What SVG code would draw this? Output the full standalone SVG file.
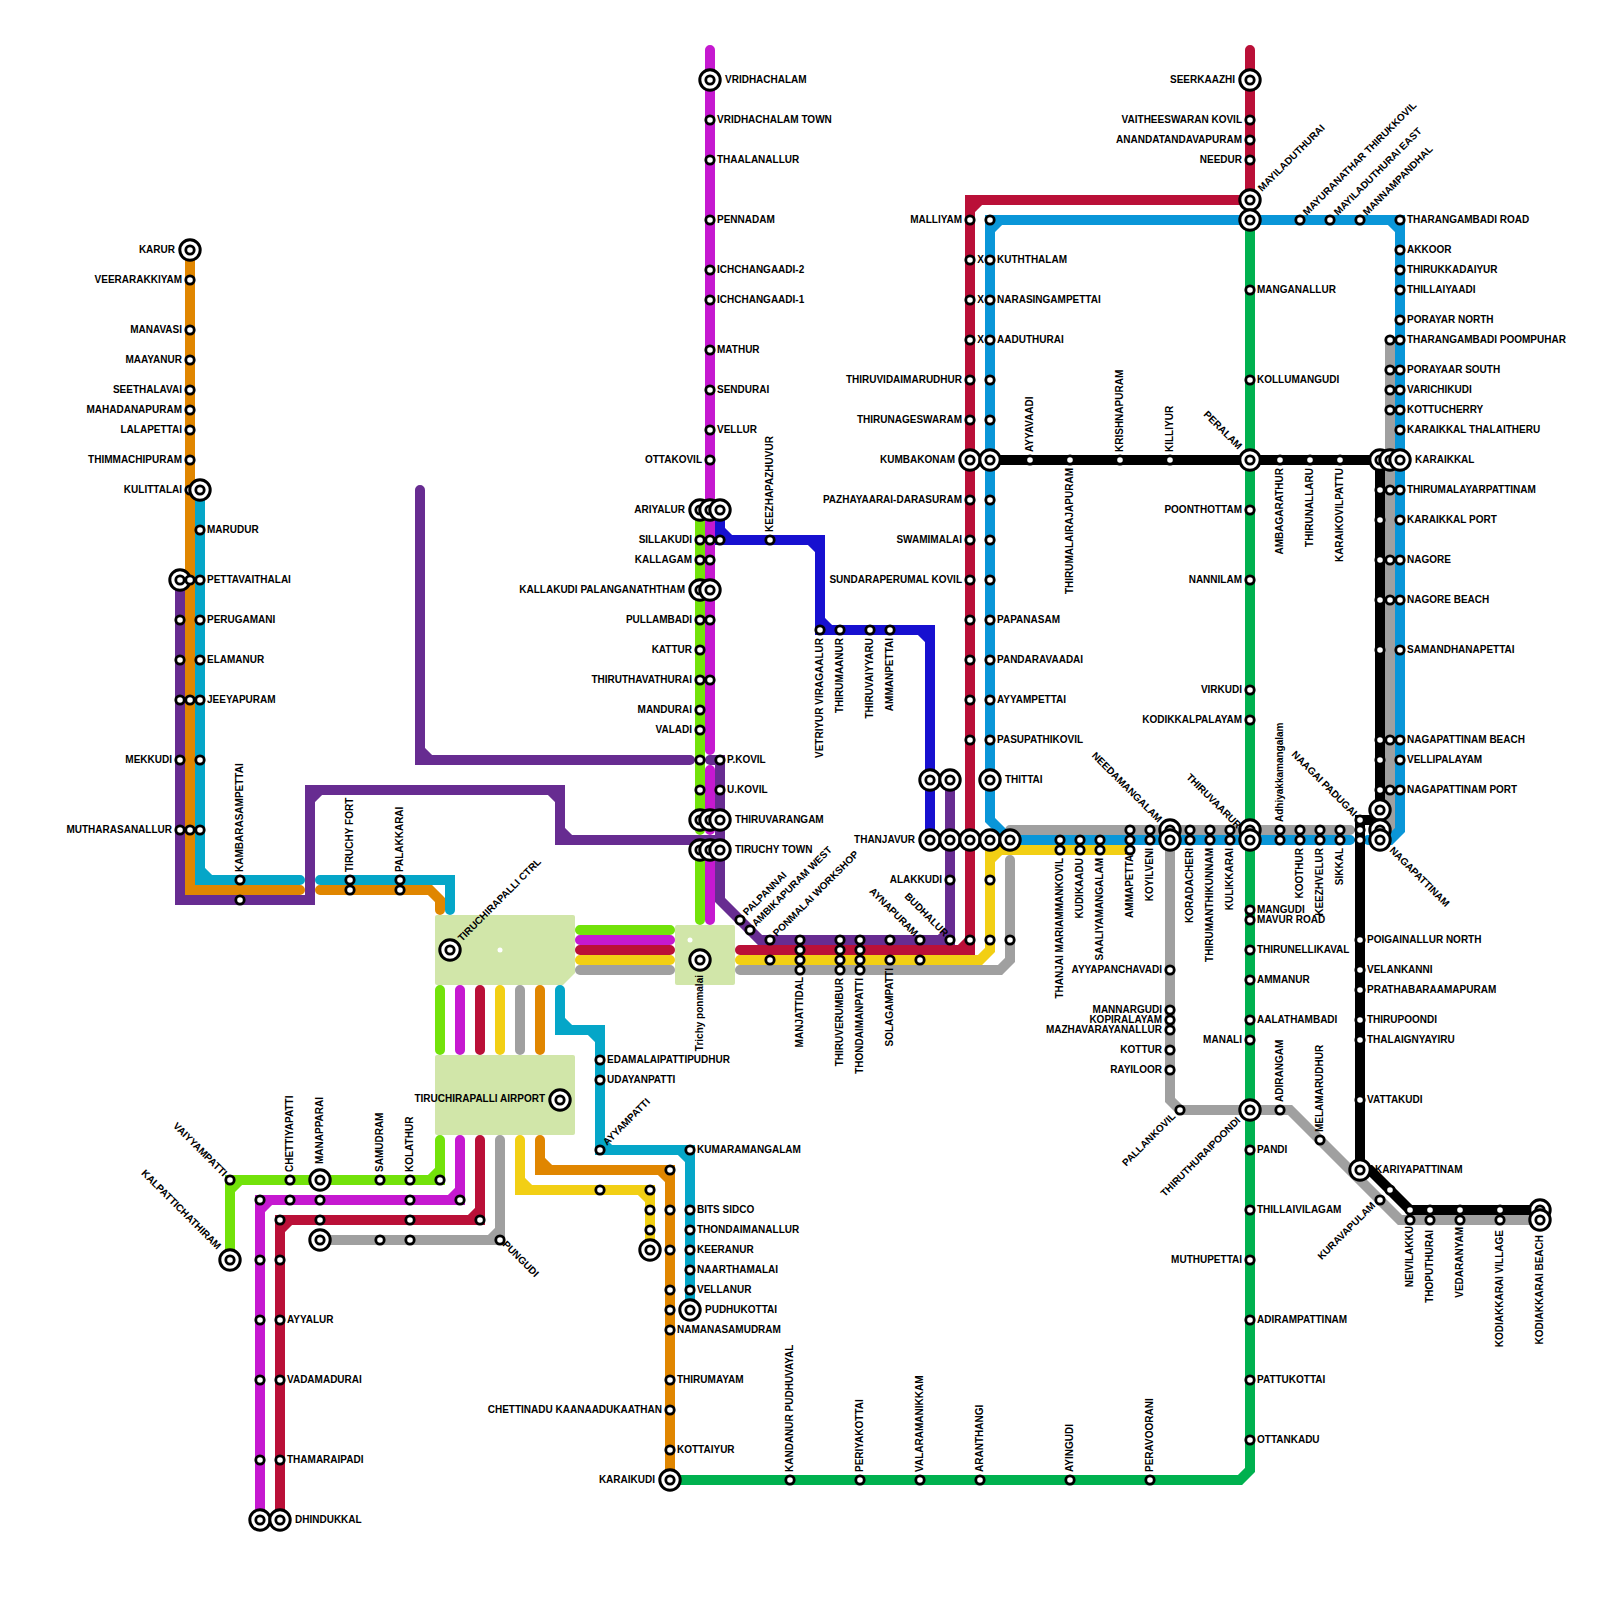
<svg xmlns="http://www.w3.org/2000/svg" width="1600" height="1600" viewBox="0 0 1600 1600">
<style>
.ln{fill:none;stroke-width:10;stroke-linecap:round;stroke-linejoin:miter}
.area{fill:#d1e6a9}
text{font:bold 10px "Liberation Sans",Arial,sans-serif;fill:#000}
.e{text-anchor:end}
.s{fill:#fff;stroke:#000;stroke-width:2.8}
.o{fill:#fff;stroke:#000;stroke-width:3}
</style>
<defs>
<g id="s"><circle class="s" r="4.2"/></g>
<g id="b"><circle class="o" r="10.2"/><circle class="s" r="4.2"/></g>
</defs>
<rect width="1600" height="1600" fill="#fff"/>
<g id="areas">
<path class="area" d="M437 915H573Q575 915 575 917V973L563 985H437Q435 985 435 983V917Q435 915 437 915Z"/>
<rect class="area" x="675" y="925" width="60" height="60" rx="2"/>
<rect class="area" x="435" y="1055" width="140" height="80" rx="2"/>
<circle cx="500" cy="950" r="2.5" fill="#fff"/>
<circle cx="690" cy="940" r="2.5" fill="#fff"/>
</g>
<g id="connectors">
<path class="ln" stroke="#672c91" d="M420 490V760H690M420 750L430 760"/>
<path class="ln" stroke="#672c91" d="M180 580V900H310V790H560V840H720M310 800L320 790M550 790L560 800M560 830L570 840"/>
<path class="ln" stroke="#672c91" d="M710 760H720V900L760 940H950V780M940 940L950 930"/>
<path class="ln" stroke="#e08600" d="M190 250V890H300M320 890H430L440 900V910M430 890L440 900"/>
<path class="ln" stroke="#05a6c8" d="M200 490V880H300M200 870L210 880M320 880H450V910"/>
<path class="ln" stroke="#72e20a" d="M700 510V830M700 850V920M580 930H670M440 990V1050M440 1140V1180H230V1260M440 1170L430 1180M230 1190L240 1180"/>
<path class="ln" stroke="#c519d0" d="M710 50V750M710 770V830M710 850V920M580 940H670M460 990V1050M460 1140V1200H260V1520M460 1190L450 1200M260 1210L270 1200"/>
<path class="ln" stroke="#ba1038" d="M580 950H670M480 990V1050M480 1140V1220H280V1520M480 1210L470 1220M280 1230L290 1220M740 950H970V200H1250M960 950L970 940M970 210L980 200M1250 50V200"/>
<path class="ln" stroke="#f2cf14" d="M580 960H670M500 990V1050M520 1140V1190H650V1250M520 1180L530 1190M640 1190L650 1200M740 960H980L990 950V850H1130M990 860L1000 850"/>
<path class="ln" stroke="#a0a0a0" d="M580 970H670M520 990V1050M500 1140V1240H320M500 1230L490 1240M740 970H1000L1010 960V860M1010 830H1350M1170 840V1100L1180 1110H1290L1400 1220H1540M1390 340V830"/>
<path class="ln" stroke="#e08600" d="M540 990V1050M540 1140V1170H670V1480M540 1160L550 1170M660 1170L670 1180"/>
<path class="ln" stroke="#05a6c8" d="M560 990V1030H600V1150H690V1310M560 1020L570 1030M590 1030L600 1040M600 1140L610 1150M680 1150L690 1160"/>
<path class="ln" stroke="#1710d0" d="M720 510V540H820V630H930V840M720 530L730 540M810 540L820 550M820 620L830 630M920 630L930 640"/>
<path class="ln" stroke="#00b14f" d="M670 1480H1240L1250 1470V220"/>
<path class="ln" stroke="#0a96d8" d="M1350 840H1010L990 820V220H1400V830L1390 840H1368M990 230L1000 220M1390 220L1400 230"/>
<path class="ln" stroke="#000" d="M990 460H1380V820H1360V1170H1370L1410 1210H1540"/>
</g>
<g id="nodes">
<g id="karur"><use href="#b" x="190" y="250"/><text class="e" x="175" y="252.5">KARUR</text></g>
<g id="veerarakkiyam"><use href="#s" x="190" y="280"/><text class="e" x="182" y="282.5">VEERARAKKIYAM</text></g>
<g id="manavasi"><use href="#s" x="190" y="330"/><text class="e" x="182" y="332.5">MANAVASI</text></g>
<g id="maayanur"><use href="#s" x="190" y="360"/><text class="e" x="182" y="362.5">MAAYANUR</text></g>
<g id="seethalavai"><use href="#s" x="190" y="390"/><text class="e" x="182" y="392.5">SEETHALAVAI</text></g>
<g id="mahadanapuram"><use href="#s" x="190" y="410"/><text class="e" x="182" y="412.5">MAHADANAPURAM</text></g>
<g id="lalapettai"><use href="#s" x="190" y="430"/><text class="e" x="182" y="432.5">LALAPETTAI</text></g>
<g id="thimmachipuram"><use href="#s" x="190" y="460"/><text class="e" x="182" y="462.5">THIMMACHIPURAM</text></g>
<g id="kulittalai"><use href="#s" x="190" y="490"/><use href="#b" x="200" y="490"/><text class="e" x="182" y="492.5">KULITTALAI</text></g>
<g id="marudur"><use href="#s" x="200" y="530"/><text x="207" y="532.5">MARUDUR</text></g>
<g id="pettavaithalai"><use href="#b" x="180" y="580"/><use href="#s" x="190" y="580"/><use href="#s" x="200" y="580"/><text x="207" y="582.5">PETTAVAITHALAI</text></g>
<g id="perugamani"><use href="#s" x="180" y="620"/><use href="#s" x="200" y="620"/><text x="207" y="622.5">PERUGAMANI</text></g>
<g id="elamanur"><use href="#s" x="180" y="660"/><use href="#s" x="200" y="660"/><text x="207" y="662.5">ELAMANUR</text></g>
<g id="jeeyapuram"><use href="#s" x="180" y="700"/><use href="#s" x="190" y="700"/><use href="#s" x="200" y="700"/><text x="207" y="702.5">JEEYAPURAM</text></g>
<g id="mekkudi"><use href="#s" x="180" y="760"/><use href="#s" x="200" y="760"/><text class="e" x="172" y="762.5">MEKKUDI</text></g>
<g id="mutharasanallur"><use href="#s" x="180" y="830"/><use href="#s" x="190" y="830"/><use href="#s" x="200" y="830"/><text class="e" x="172" y="832.5">MUTHARASANALLUR</text></g>
<g id="kambarasampettai"><use href="#s" x="240" y="880"/><use href="#s" x="240" y="900"/><text x="243" y="872" transform="rotate(-90 243 872)">KAMBARASAMPETTAI</text></g>
<g id="tiruchy-fort"><use href="#s" x="350" y="880"/><use href="#s" x="350" y="890"/><text x="353" y="872" transform="rotate(-90 353 872)">TIRUCHY FORT</text></g>
<g id="palakkarai"><use href="#s" x="400" y="880"/><use href="#s" x="400" y="890"/><text x="403" y="872" transform="rotate(-90 403 872)">PALAKKARAI</text></g>
<g id="tiruchirapalli-ctrl"><use href="#b" x="450" y="950"/><text x="462" y="942" transform="rotate(-45 462 942)">TIRUCHIRAPALLI CTRL</text></g>
<g id="trichy-ponmalai"><use href="#b" x="700" y="960"/><text class="e" x="703" y="975" transform="rotate(-90 703 975)">Trichy ponmalai</text></g>
<g id="airport"><use href="#b" x="560" y="1100"/><text class="e" x="545" y="1101.5">TIRUCHIRAPALLI AIRPORT</text></g>
<g id="edamalaipattipudhur"><use href="#s" x="600" y="1060"/><text x="607" y="1062.5">EDAMALAIPATTIPUDHUR</text></g>
<g id="udayanpatti"><use href="#s" x="600" y="1080"/><text x="607" y="1082.5">UDAYANPATTI</text></g>
<g id="ayyampatti"><use href="#s" x="600" y="1150"/><text x="607" y="1146" transform="rotate(-45 607 1146)">AYYAMPATTI</text></g>
<g id="kumaramangalam"><use href="#s" x="690" y="1150"/><text x="697" y="1152.5">KUMARAMANGALAM</text></g>
<g id="n-o1"><use href="#s" x="670" y="1170"/></g>
<g id="n-y1"><use href="#s" x="600" y="1190"/></g>
<g id="n-y2"><use href="#s" x="650" y="1190"/></g>
<g id="n-y3"><use href="#s" x="650" y="1210"/></g>
<g id="n-y4"><use href="#s" x="650" y="1230"/></g>
<g id="n-y5"><use href="#b" x="650" y="1250"/></g>
<g id="bits-sidco"><use href="#s" x="670" y="1210"/><use href="#s" x="690" y="1210"/><text x="697" y="1212.5">BITS SIDCO</text></g>
<g id="thondaimanallur"><use href="#s" x="690" y="1230"/><text x="697" y="1232.5">THONDAIMANALLUR</text></g>
<g id="keeranur"><use href="#s" x="670" y="1250"/><use href="#s" x="690" y="1250"/><text x="697" y="1252.5">KEERANUR</text></g>
<g id="naarthamalai"><use href="#s" x="690" y="1270"/><text x="697" y="1272.5">NAARTHAMALAI</text></g>
<g id="vellanur"><use href="#s" x="670" y="1290"/><use href="#s" x="690" y="1290"/><text x="697" y="1292.5">VELLANUR</text></g>
<g id="pudhukottai"><use href="#s" x="670" y="1310"/><use href="#b" x="690" y="1310"/><text x="705" y="1312.5">PUDHUKOTTAI</text></g>
<g id="namanasamudram"><use href="#s" x="670" y="1330"/><text x="677" y="1332.5">NAMANASAMUDRAM</text></g>
<g id="thirumayam"><use href="#s" x="670" y="1380"/><text x="677" y="1382.5">THIRUMAYAM</text></g>
<g id="chettinadu"><use href="#s" x="670" y="1410"/><text class="e" x="662" y="1412.5">CHETTINADU KAANAADUKAATHAN</text></g>
<g id="kottaiyur"><use href="#s" x="670" y="1450"/><text x="677" y="1452.5">KOTTAIYUR</text></g>
<g id="karaikudi"><use href="#b" x="670" y="1480"/><text class="e" x="655" y="1482.5">KARAIKUDI</text></g>
<g id="vaiyyampatti"><use href="#s" x="230" y="1180"/><text class="e" x="223" y="1177" transform="rotate(45 223 1177)">VAIYYAMPATTI</text></g>
<g id="kalpattichathiram"><use href="#b" x="230" y="1260"/><text class="e" x="217" y="1250" transform="rotate(45 217 1250)">KALPATTICHATHIRAM</text></g>
<g id="chettiyapatti"><use href="#s" x="290" y="1180"/><use href="#s" x="290" y="1200"/><text x="293" y="1172" transform="rotate(-90 293 1172)">CHETTIYAPATTI</text></g>
<g id="manapparai"><use href="#b" x="320" y="1180"/><use href="#s" x="320" y="1200"/><use href="#s" x="320" y="1220"/><use href="#b" x="320" y="1240"/><text x="323" y="1164" transform="rotate(-90 323 1164)">MANAPPARAI</text></g>
<g id="samudram"><use href="#s" x="380" y="1180"/><use href="#s" x="380" y="1240"/><text x="383" y="1172" transform="rotate(-90 383 1172)">SAMUDRAM</text></g>
<g id="kolathur"><use href="#s" x="410" y="1180"/><use href="#s" x="410" y="1200"/><use href="#s" x="410" y="1220"/><use href="#s" x="410" y="1240"/><text x="413" y="1172" transform="rotate(-90 413 1172)">KOLATHUR</text></g>
<g id="n-g1"><use href="#s" x="440" y="1180"/></g>
<g id="n-m1"><use href="#s" x="460" y="1200"/></g>
<g id="n-r1"><use href="#s" x="480" y="1220"/></g>
<g id="pungudi"><use href="#s" x="500" y="1240"/><text x="502" y="1245" transform="rotate(45 502 1245)">PUNGUDI</text></g>
<g id="n-m2"><use href="#s" x="260" y="1200"/></g>
<g id="n-r2"><use href="#s" x="280" y="1220"/></g>
<g id="n-m3"><use href="#s" x="260" y="1260"/></g>
<g id="n-r3"><use href="#s" x="280" y="1260"/></g>
<g id="ayyalur"><use href="#s" x="260" y="1320"/><use href="#s" x="280" y="1320"/><text x="287" y="1322.5">AYYALUR</text></g>
<g id="vadamadurai"><use href="#s" x="260" y="1380"/><use href="#s" x="280" y="1380"/><text x="287" y="1382.5">VADAMADURAI</text></g>
<g id="thamaraipadi"><use href="#s" x="260" y="1460"/><use href="#s" x="280" y="1460"/><text x="287" y="1462.5">THAMARAIPADI</text></g>
<g id="dhindukkal"><use href="#b" x="260" y="1520"/><use href="#b" x="280" y="1520"/><text x="295" y="1522.5">DHINDUKKAL</text></g>
<g id="vridhachalam"><use href="#b" x="710" y="80"/><text x="725" y="82.5">VRIDHACHALAM</text></g>
<g id="vridhachalam-town"><use href="#s" x="710" y="120"/><text x="717" y="122.5">VRIDHACHALAM TOWN</text></g>
<g id="thaalanallur"><use href="#s" x="710" y="160"/><text x="717" y="162.5">THAALANALLUR</text></g>
<g id="pennadam"><use href="#s" x="710" y="220"/><text x="717" y="222.5">PENNADAM</text></g>
<g id="ichchangaadi2"><use href="#s" x="710" y="270"/><text x="717" y="272.5">ICHCHANGAADI-2</text></g>
<g id="ichchangaadi1"><use href="#s" x="710" y="300"/><text x="717" y="302.5">ICHCHANGAADI-1</text></g>
<g id="mathur"><use href="#s" x="710" y="350"/><text x="717" y="352.5">MATHUR</text></g>
<g id="sendurai"><use href="#s" x="710" y="390"/><text x="717" y="392.5">SENDURAI</text></g>
<g id="vellur"><use href="#s" x="710" y="430"/><text x="717" y="432.5">VELLUR</text></g>
<g id="ottakovil"><use href="#s" x="710" y="460"/><text class="e" x="702" y="462.5">OTTAKOVIL</text></g>
<g id="ariyalur"><use href="#b" x="700" y="510"/><use href="#b" x="710" y="510"/><use href="#b" x="720" y="510"/><text class="e" x="685" y="512.5">ARIYALUR</text></g>
<g id="sillakudi"><use href="#s" x="700" y="540"/><use href="#s" x="710" y="540"/><use href="#s" x="720" y="540"/><text class="e" x="692" y="542.5">SILLAKUDI</text></g>
<g id="keezhapazhuvur"><use href="#s" x="770" y="540"/><text x="773" y="532" transform="rotate(-90 773 532)">KEEZHAPAZHUVUR</text></g>
<g id="kallagam"><use href="#s" x="700" y="560"/><use href="#s" x="710" y="560"/><text class="e" x="692" y="562.5">KALLAGAM</text></g>
<g id="kallakudi"><use href="#b" x="700" y="590"/><use href="#b" x="710" y="590"/><text class="e" x="685" y="592.5">KALLAKUDI PALANGANATHTHAM</text></g>
<g id="pullambadi"><use href="#s" x="700" y="620"/><use href="#s" x="710" y="620"/><text class="e" x="692" y="622.5">PULLAMBADI</text></g>
<g id="kattur"><use href="#s" x="700" y="650"/><text class="e" x="692" y="652.5">KATTUR</text></g>
<g id="thiruthavathurai"><use href="#s" x="700" y="680"/><use href="#s" x="710" y="680"/><text class="e" x="692" y="682.5">THIRUTHAVATHURAI</text></g>
<g id="mandurai"><use href="#s" x="700" y="710"/><text class="e" x="692" y="712.5">MANDURAI</text></g>
<g id="valadi"><use href="#s" x="700" y="730"/><text class="e" x="692" y="732.5">VALADI</text></g>
<g id="p-kovil"><use href="#s" x="700" y="760"/><use href="#s" x="720" y="760"/><text x="727" y="762.5">P.KOVIL</text></g>
<g id="u-kovil"><use href="#s" x="700" y="790"/><use href="#s" x="720" y="790"/><text x="727" y="792.5">U.KOVIL</text></g>
<g id="thiruvarangam"><use href="#b" x="700" y="820"/><use href="#b" x="710" y="820"/><use href="#b" x="720" y="820"/><text x="735" y="822.5">THIRUVARANGAM</text></g>
<g id="tiruchy-town"><use href="#b" x="700" y="850"/><use href="#b" x="710" y="850"/><use href="#b" x="720" y="850"/><text x="735" y="852.5">TIRUCHY TOWN</text></g>
<g id="palpannai"><use href="#s" x="740" y="920"/><text x="747" y="916" transform="rotate(-45 747 916)">PALPANNAI</text></g>
<g id="ambikapuram-west"><use href="#s" x="750" y="930"/><text x="756" y="927" transform="rotate(-45 756 927)">AMBIKAPURAM WEST</text></g>
<g id="ponmalai-workshop"><use href="#s" x="770" y="940"/><use href="#s" x="770" y="960"/><text x="777" y="937" transform="rotate(-45 777 937)">PONMALAI WORKSHOP</text></g>
<g id="manjattidal"><use href="#s" x="800" y="940"/><use href="#s" x="800" y="950"/><use href="#s" x="800" y="960"/><use href="#s" x="800" y="970"/><text class="e" x="803" y="977" transform="rotate(-90 803 977)">MANJATTIDAL</text></g>
<g id="thiruverumbur"><use href="#s" x="840" y="940"/><use href="#s" x="840" y="950"/><use href="#s" x="840" y="960"/><use href="#s" x="840" y="970"/><text class="e" x="843" y="978" transform="rotate(-90 843 978)">THIRUVERUMBUR</text></g>
<g id="thondaimanpatti"><use href="#s" x="860" y="940"/><use href="#s" x="860" y="950"/><use href="#s" x="860" y="960"/><use href="#s" x="860" y="970"/><text class="e" x="863" y="978" transform="rotate(-90 863 978)">THONDAIMANPATTI</text></g>
<g id="solagampatti"><use href="#s" x="890" y="940"/><use href="#s" x="890" y="960"/><text class="e" x="893" y="968" transform="rotate(-90 893 968)">SOLAGAMPATTI</text></g>
<g id="aynapuram"><use href="#s" x="920" y="940"/><use href="#s" x="920" y="960"/><text class="e" x="914" y="937" transform="rotate(45 914 937)">AYNAPURAM</text></g>
<g id="budhalur"><use href="#s" x="950" y="940"/><text class="e" x="944" y="937" transform="rotate(45 944 937)">BUDHALUR</text></g>
<g id="n-r4"><use href="#s" x="970" y="940"/></g>
<g id="n-y6"><use href="#s" x="990" y="940"/></g>
<g id="n-gy1"><use href="#s" x="1010" y="940"/></g>
<g id="n-y7"><use href="#s" x="990" y="880"/></g>
<g id="alakkudi"><use href="#s" x="950" y="880"/><text class="e" x="942" y="882.5">ALAKKUDI</text></g>
<g id="vetriyur"><use href="#s" x="820" y="630"/><text class="e" x="823" y="638" transform="rotate(-90 823 638)">VETRIYUR VIRAGAALUR</text></g>
<g id="thirumaanur"><use href="#s" x="840" y="630"/><text class="e" x="843" y="638" transform="rotate(-90 843 638)">THIRUMAANUR</text></g>
<g id="thiruvaiyyaru"><use href="#s" x="870" y="630"/><text class="e" x="873" y="638" transform="rotate(-90 873 638)">THIRUVAIYYARU</text></g>
<g id="ammanpettai"><use href="#s" x="890" y="630"/><text class="e" x="893" y="638" transform="rotate(-90 893 638)">AMMANPETTAI</text></g>
<g id="n-t1"><use href="#b" x="930" y="780"/><use href="#b" x="950" y="780"/></g>
<g id="thittai"><use href="#b" x="990" y="780"/><text x="1005" y="782.5">THITTAI</text></g>
<g id="thanjavur"><use href="#b" x="930" y="840"/><use href="#b" x="950" y="840"/><use href="#b" x="970" y="840"/><use href="#b" x="990" y="840"/><use href="#b" x="1010" y="840"/><text class="e" x="915" y="842.5">THANJAVUR</text></g>
<g id="malliyam"><use href="#s" x="970" y="220"/><use href="#s" x="990" y="220"/><text class="e" x="962" y="222.5">MALLIYAM</text></g>
<g id="kuththalam"><use href="#s" x="970" y="260"/><use href="#s" x="990" y="260"/><text class="e" x="984" y="262.5">X</text><text x="997" y="262.5">KUTHTHALAM</text></g>
<g id="narasingampettai"><use href="#s" x="970" y="300"/><use href="#s" x="990" y="300"/><text class="e" x="984" y="302.5">X</text><text x="997" y="302.5">NARASINGAMPETTAI</text></g>
<g id="aaduthurai"><use href="#s" x="970" y="340"/><use href="#s" x="990" y="340"/><text class="e" x="984" y="342.5">X</text><text x="997" y="342.5">AADUTHURAI</text></g>
<g id="thiruvidaimarudhur"><use href="#s" x="970" y="380"/><use href="#s" x="990" y="380"/><text class="e" x="962" y="382.5">THIRUVIDAIMARUDHUR</text></g>
<g id="thirunageswaram"><use href="#s" x="970" y="420"/><use href="#s" x="990" y="420"/><text class="e" x="962" y="422.5">THIRUNAGESWARAM</text></g>
<g id="kumbakonam"><use href="#b" x="970" y="460"/><use href="#b" x="990" y="460"/><text class="e" x="955" y="462.5">KUMBAKONAM</text></g>
<g id="darasuram"><use href="#s" x="970" y="500"/><use href="#s" x="990" y="500"/><text class="e" x="962" y="502.5">PAZHAYAARAI-DARASURAM</text></g>
<g id="swamimalai"><use href="#s" x="970" y="540"/><use href="#s" x="990" y="540"/><text class="e" x="962" y="542.5">SWAMIMALAI</text></g>
<g id="sundaraperumal"><use href="#s" x="970" y="580"/><use href="#s" x="990" y="580"/><text class="e" x="962" y="582.5">SUNDARAPERUMAL KOVIL</text></g>
<g id="papanasam"><use href="#s" x="970" y="620"/><use href="#s" x="990" y="620"/><text x="997" y="622.5">PAPANASAM</text></g>
<g id="pandaravaadai"><use href="#s" x="970" y="660"/><use href="#s" x="990" y="660"/><text x="997" y="662.5">PANDARAVAADAI</text></g>
<g id="ayyampettai"><use href="#s" x="970" y="700"/><use href="#s" x="990" y="700"/><text x="997" y="702.5">AYYAMPETTAI</text></g>
<g id="pasupathikovil"><use href="#s" x="970" y="740"/><use href="#s" x="990" y="740"/><text x="997" y="742.5">PASUPATHIKOVIL</text></g>
<g id="ayyavaadi"><use href="#s" x="1030" y="460"/><text x="1033" y="452" transform="rotate(-90 1033 452)">AYYAVAADI</text></g>
<g id="thirumalairajapuram"><use href="#s" x="1070" y="460"/><text class="e" x="1073" y="468" transform="rotate(-90 1073 468)">THIRUMALAIRAJAPURAM</text></g>
<g id="krishnapuram"><use href="#s" x="1120" y="460"/><text x="1123" y="452" transform="rotate(-90 1123 452)">KRISHNAPURAM</text></g>
<g id="killiyur"><use href="#s" x="1170" y="460"/><text x="1173" y="452" transform="rotate(-90 1173 452)">KILLIYUR</text></g>
<g id="peralam"><use href="#b" x="1250" y="460"/><text class="e" x="1238" y="450" transform="rotate(45 1238 450)">PERALAM</text></g>
<g id="ambagarathur"><use href="#s" x="1280" y="460"/><text class="e" x="1283" y="468" transform="rotate(-90 1283 468)">AMBAGARATHUR</text></g>
<g id="thirunallaru"><use href="#s" x="1310" y="460"/><text class="e" x="1313" y="468" transform="rotate(-90 1313 468)">THIRUNALLARU</text></g>
<g id="karaikovilpattu"><use href="#s" x="1340" y="460"/><text class="e" x="1343" y="468" transform="rotate(-90 1343 468)">KARAIKOVILPATTU</text></g>
<g id="seerkaazhi"><use href="#b" x="1250" y="80"/><text class="e" x="1235" y="82.5">SEERKAAZHI</text></g>
<g id="vaitheeswaran"><use href="#s" x="1250" y="120"/><text class="e" x="1242" y="122.5">VAITHEESWARAN KOVIL</text></g>
<g id="anandatandavapuram"><use href="#s" x="1250" y="140"/><text class="e" x="1242" y="142.5">ANANDATANDAVAPURAM</text></g>
<g id="needur"><use href="#s" x="1250" y="160"/><text class="e" x="1242" y="162.5">NEEDUR</text></g>
<g id="mayiladuthurai"><use href="#b" x="1250" y="200"/><use href="#b" x="1250" y="220"/><text x="1262" y="192" transform="rotate(-45 1262 192)">MAYILADUTHURAI</text></g>
<g id="mayuranathar"><use href="#s" x="1300" y="220"/><text x="1307" y="216" transform="rotate(-45 1307 216)">MAYURANATHAR THIRUKKOVIL</text></g>
<g id="mayiladuthurai-east"><use href="#s" x="1330" y="220"/><text x="1338" y="216" transform="rotate(-45 1338 216)">MAYILADUTHURAI EAST</text></g>
<g id="mannampandhal"><use href="#s" x="1360" y="220"/><text x="1367" y="216" transform="rotate(-45 1367 216)">MANNAMPANDHAL</text></g>
<g id="tharangambadi-road"><use href="#s" x="1400" y="220"/><text x="1407" y="222.5">THARANGAMBADI ROAD</text></g>
<g id="akkoor"><use href="#s" x="1400" y="250"/><text x="1407" y="252.5">AKKOOR</text></g>
<g id="thirukkadaiyur"><use href="#s" x="1400" y="270"/><text x="1407" y="272.5">THIRUKKADAIYUR</text></g>
<g id="thillaiyaadi"><use href="#s" x="1400" y="290"/><text x="1407" y="292.5">THILLAIYAADI</text></g>
<g id="porayar-north"><use href="#s" x="1400" y="320"/><text x="1407" y="322.5">PORAYAR NORTH</text></g>
<g id="poompuhar"><use href="#s" x="1390" y="340"/><use href="#s" x="1400" y="340"/><text x="1407" y="342.5">THARANGAMBADI POOMPUHAR</text></g>
<g id="porayaar-south"><use href="#s" x="1390" y="370"/><use href="#s" x="1400" y="370"/><text x="1407" y="372.5">PORAYAAR SOUTH</text></g>
<g id="varichikudi"><use href="#s" x="1390" y="390"/><use href="#s" x="1400" y="390"/><text x="1407" y="392.5">VARICHIKUDI</text></g>
<g id="kottucherry"><use href="#s" x="1390" y="410"/><use href="#s" x="1400" y="410"/><text x="1407" y="412.5">KOTTUCHERRY</text></g>
<g id="thalaitheru"><use href="#s" x="1400" y="430"/><text x="1407" y="432.5">KARAIKKAL THALAITHERU</text></g>
<g id="karaikkal"><use href="#b" x="1380" y="460"/><use href="#b" x="1390" y="460"/><use href="#b" x="1400" y="460"/><text x="1415" y="462.5">KARAIKKAL</text></g>
<g id="thirumalayarpattinam"><use href="#s" x="1380" y="490"/><use href="#s" x="1390" y="490"/><use href="#s" x="1400" y="490"/><text x="1407" y="492.5">THIRUMALAYARPATTINAM</text></g>
<g id="karaikkal-port"><use href="#s" x="1380" y="520"/><use href="#s" x="1400" y="520"/><text x="1407" y="522.5">KARAIKKAL PORT</text></g>
<g id="nagore"><use href="#s" x="1380" y="560"/><use href="#s" x="1390" y="560"/><use href="#s" x="1400" y="560"/><text x="1407" y="562.5">NAGORE</text></g>
<g id="nagore-beach"><use href="#s" x="1380" y="600"/><use href="#s" x="1390" y="600"/><use href="#s" x="1400" y="600"/><text x="1407" y="602.5">NAGORE BEACH</text></g>
<g id="samandhanapettai"><use href="#s" x="1380" y="650"/><use href="#s" x="1400" y="650"/><text x="1407" y="652.5">SAMANDHANAPETTAI</text></g>
<g id="nagapattinam-beach"><use href="#s" x="1380" y="740"/><use href="#s" x="1390" y="740"/><use href="#s" x="1400" y="740"/><text x="1407" y="742.5">NAGAPATTINAM BEACH</text></g>
<g id="vellipalayam"><use href="#s" x="1380" y="760"/><use href="#s" x="1400" y="760"/><text x="1407" y="762.5">VELLIPALAYAM</text></g>
<g id="nagapattinam-port"><use href="#s" x="1380" y="790"/><use href="#s" x="1390" y="790"/><use href="#s" x="1400" y="790"/><text x="1407" y="792.5">NAGAPATTINAM PORT</text></g>
<g id="manganallur"><use href="#s" x="1250" y="290"/><text x="1257" y="292.5">MANGANALLUR</text></g>
<g id="kollumangudi"><use href="#s" x="1250" y="380"/><text x="1257" y="382.5">KOLLUMANGUDI</text></g>
<g id="poonthottam"><use href="#s" x="1250" y="510"/><text class="e" x="1242" y="512.5">POONTHOTTAM</text></g>
<g id="nannilam"><use href="#s" x="1250" y="580"/><text class="e" x="1242" y="582.5">NANNILAM</text></g>
<g id="virkudi"><use href="#s" x="1250" y="690"/><text class="e" x="1242" y="692.5">VIRKUDI</text></g>
<g id="kodikkalpalayam"><use href="#s" x="1250" y="720"/><text class="e" x="1242" y="722.5">KODIKKALPALAYAM</text></g>
<g id="thanjai-mariammankovil"><use href="#s" x="1060" y="840"/><use href="#s" x="1060" y="850"/><text class="e" x="1063" y="858" transform="rotate(-90 1063 858)">THANJAI MARIAMMANKOVIL</text></g>
<g id="kudikaadu"><use href="#s" x="1080" y="840"/><use href="#s" x="1080" y="850"/><text class="e" x="1083" y="858" transform="rotate(-90 1083 858)">KUDIKAADU</text></g>
<g id="saaliyamangalam"><use href="#s" x="1100" y="840"/><use href="#s" x="1100" y="850"/><text class="e" x="1103" y="858" transform="rotate(-90 1103 858)">SAALIYAMANGALAM</text></g>
<g id="ammapettai"><use href="#s" x="1130" y="830"/><use href="#s" x="1130" y="840"/><use href="#s" x="1130" y="850"/><text class="e" x="1133" y="852" transform="rotate(-90 1133 852)">AMMAPETTAI</text></g>
<g id="koyilveni"><use href="#s" x="1150" y="830"/><use href="#s" x="1150" y="840"/><text class="e" x="1153" y="848" transform="rotate(-90 1153 848)">KOYILVENI</text></g>
<g id="needamangalam"><use href="#b" x="1170" y="830"/><use href="#b" x="1170" y="840"/><text class="e" x="1158" y="823" transform="rotate(45 1158 823)">NEEDAMANGALAM</text></g>
<g id="koradacheri"><use href="#s" x="1190" y="830"/><use href="#s" x="1190" y="840"/><text class="e" x="1193" y="848" transform="rotate(-90 1193 848)">KORADACHERI</text></g>
<g id="thirumanthikunnam"><use href="#s" x="1210" y="830"/><use href="#s" x="1210" y="840"/><text class="e" x="1213" y="848" transform="rotate(-90 1213 848)">THIRUMANTHIKUNNAM</text></g>
<g id="kulikkarai"><use href="#s" x="1230" y="830"/><use href="#s" x="1230" y="840"/><text class="e" x="1233" y="848" transform="rotate(-90 1233 848)">KULIKKARAI</text></g>
<g id="thiruvaarur"><use href="#b" x="1250" y="830"/><use href="#b" x="1250" y="840"/><text class="e" x="1237" y="829" transform="rotate(45 1237 829)">THIRUVAARUR</text></g>
<g id="adhiyakkamangalam"><use href="#s" x="1280" y="830"/><use href="#s" x="1280" y="840"/><text x="1283" y="822" transform="rotate(-90 1283 822)">Adhiyakkamangalam</text></g>
<g id="koothur"><use href="#s" x="1300" y="830"/><use href="#s" x="1300" y="840"/><text class="e" x="1303" y="848" transform="rotate(-90 1303 848)">KOOTHUR</text></g>
<g id="keezhvelur"><use href="#s" x="1320" y="830"/><use href="#s" x="1320" y="840"/><text class="e" x="1323" y="848" transform="rotate(-90 1323 848)">KEEZHVELUR</text></g>
<g id="sikkal"><use href="#s" x="1340" y="830"/><use href="#s" x="1340" y="840"/><text class="e" x="1343" y="848" transform="rotate(-90 1343 848)">SIKKAL</text></g>
<g id="naagai-padugai"><use href="#s" x="1360" y="820"/><use href="#s" x="1360" y="830"/><use href="#s" x="1360" y="840"/><text class="e" x="1353" y="817" transform="rotate(45 1353 817)">NAAGAI PADUGAI</text></g>
<g id="nagapattinam"><use href="#b" x="1380" y="810"/><use href="#b" x="1380" y="830"/><use href="#b" x="1380" y="840"/><text x="1389" y="851" transform="rotate(45 1389 851)">NAGAPATTINAM</text></g>
<g id="mangudi"><use href="#s" x="1250" y="910"/><text x="1257" y="912.5">MANGUDI</text></g>
<g id="mavur-road"><use href="#s" x="1250" y="920"/><text x="1257" y="922.5">MAVUR ROAD</text></g>
<g id="thirunellikaval"><use href="#s" x="1250" y="950"/><text x="1257" y="952.5">THIRUNELLIKAVAL</text></g>
<g id="ammanur"><use href="#s" x="1250" y="980"/><text x="1257" y="982.5">AMMANUR</text></g>
<g id="aalathambadi"><use href="#s" x="1250" y="1020"/><text x="1257" y="1022.5">AALATHAMBADI</text></g>
<g id="manali"><use href="#s" x="1250" y="1040"/><text class="e" x="1242" y="1042.5">MANALI</text></g>
<g id="thiruthuraipoondi"><use href="#b" x="1250" y="1110"/><text class="e" x="1241" y="1121" transform="rotate(-45 1241 1121)">THIRUTHURAIPOONDI</text></g>
<g id="pandi"><use href="#s" x="1250" y="1150"/><text x="1257" y="1152.5">PANDI</text></g>
<g id="thillaivilagam"><use href="#s" x="1250" y="1210"/><text x="1257" y="1212.5">THILLAIVILAGAM</text></g>
<g id="muthupettai"><use href="#s" x="1250" y="1260"/><text class="e" x="1242" y="1262.5">MUTHUPETTAI</text></g>
<g id="adirampattinam"><use href="#s" x="1250" y="1320"/><text x="1257" y="1322.5">ADIRAMPATTINAM</text></g>
<g id="pattukottai"><use href="#s" x="1250" y="1380"/><text x="1257" y="1382.5">PATTUKOTTAI</text></g>
<g id="ottankadu"><use href="#s" x="1250" y="1440"/><text x="1257" y="1442.5">OTTANKADU</text></g>
<g id="kandanur"><use href="#s" x="790" y="1480"/><text x="793" y="1472" transform="rotate(-90 793 1472)">KANDANUR PUDHUVAYAL</text></g>
<g id="periyakottai"><use href="#s" x="860" y="1480"/><text x="863" y="1472" transform="rotate(-90 863 1472)">PERIYAKOTTAI</text></g>
<g id="valaramanikkam"><use href="#s" x="920" y="1480"/><text x="923" y="1472" transform="rotate(-90 923 1472)">VALARAMANIKKAM</text></g>
<g id="aranthangi"><use href="#s" x="980" y="1480"/><text x="983" y="1472" transform="rotate(-90 983 1472)">ARANTHANGI</text></g>
<g id="ayingudi"><use href="#s" x="1070" y="1480"/><text x="1073" y="1472" transform="rotate(-90 1073 1472)">AYINGUDI</text></g>
<g id="peravoorani"><use href="#s" x="1150" y="1480"/><text x="1153" y="1472" transform="rotate(-90 1153 1472)">PERAVOORANI</text></g>
<g id="ayyapanchavadi"><use href="#s" x="1170" y="970"/><text class="e" x="1162" y="972.5">AYYAPANCHAVADI</text></g>
<g id="mannargudi"><use href="#s" x="1170" y="1010"/><text class="e" x="1162" y="1012.5">MANNARGUDI</text></g>
<g id="kopiralayam"><use href="#s" x="1170" y="1020"/><text class="e" x="1162" y="1022.5">KOPIRALAYAM</text></g>
<g id="mazhavarayanallur"><use href="#s" x="1170" y="1030"/><text class="e" x="1162" y="1032.5">MAZHAVARAYANALLUR</text></g>
<g id="kottur"><use href="#s" x="1170" y="1050"/><text class="e" x="1162" y="1052.5">KOTTUR</text></g>
<g id="rayiloor"><use href="#s" x="1170" y="1070"/><text class="e" x="1162" y="1072.5">RAYILOOR</text></g>
<g id="pallankovil"><use href="#s" x="1180" y="1110"/><text class="e" x="1176" y="1117" transform="rotate(-45 1176 1117)">PALLANKOVIL</text></g>
<g id="adirangam"><use href="#s" x="1280" y="1110"/><text x="1283" y="1102" transform="rotate(-90 1283 1102)">ADIRANGAM</text></g>
<g id="melamarudhur"><use href="#s" x="1320" y="1140"/><text x="1323" y="1132" transform="rotate(-90 1323 1132)">MELAMARUDHUR</text></g>
<g id="poigainallur"><use href="#s" x="1360" y="940"/><text x="1367" y="942.5">POIGAINALLUR NORTH</text></g>
<g id="velankanni"><use href="#s" x="1360" y="970"/><text x="1367" y="972.5">VELANKANNI</text></g>
<g id="prathabaraamapuram"><use href="#s" x="1360" y="990"/><text x="1367" y="992.5">PRATHABARAAMAPURAM</text></g>
<g id="thirupoondi"><use href="#s" x="1360" y="1020"/><text x="1367" y="1022.5">THIRUPOONDI</text></g>
<g id="thalaignyayiru"><use href="#s" x="1360" y="1040"/><text x="1367" y="1042.5">THALAIGNYAYIRU</text></g>
<g id="vattakudi"><use href="#s" x="1360" y="1100"/><text x="1367" y="1102.5">VATTAKUDI</text></g>
<g id="kariyapattinam"><use href="#b" x="1360" y="1170"/><text x="1375" y="1172.5">KARIYAPATTINAM</text></g>
<g id="n-k1"><use href="#s" x="1390" y="1190"/></g>
<g id="kuravapulam"><use href="#s" x="1380" y="1200"/><text class="e" x="1376" y="1206" transform="rotate(-45 1376 1206)">KURAVAPULAM</text></g>
<g id="neivilakku"><use href="#s" x="1410" y="1210"/><use href="#s" x="1410" y="1220"/><text class="e" x="1413" y="1226" transform="rotate(-90 1413 1226)">NEIVILAKKU</text></g>
<g id="thoputhurai"><use href="#s" x="1430" y="1210"/><use href="#s" x="1430" y="1220"/><text class="e" x="1433" y="1230" transform="rotate(-90 1433 1230)">THOPUTHURAI</text></g>
<g id="vedaranyam"><use href="#s" x="1460" y="1210"/><use href="#s" x="1460" y="1220"/><text class="e" x="1463" y="1227" transform="rotate(-90 1463 1227)">VEDARANYAM</text></g>
<g id="kodiakkarai-village"><use href="#s" x="1500" y="1210"/><use href="#s" x="1500" y="1220"/><text class="e" x="1503" y="1230" transform="rotate(-90 1503 1230)">KODIAKKARAI VILLAGE</text></g>
<g id="kodiakkarai-beach"><use href="#b" x="1540" y="1210"/><use href="#b" x="1540" y="1220"/><text class="e" x="1543" y="1235" transform="rotate(-90 1543 1235)">KODIAKKARAI BEACH</text></g>
</g>
</svg>
